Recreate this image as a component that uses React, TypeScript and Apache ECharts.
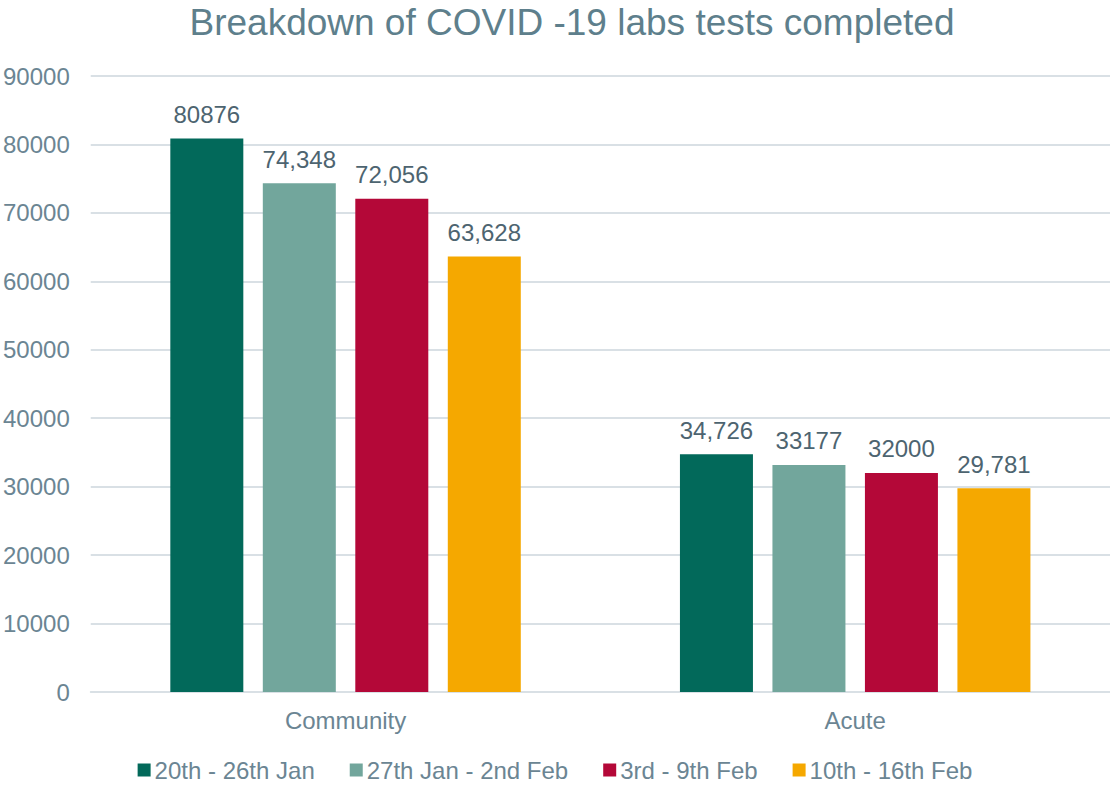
import React, { useEffect, useRef } from "react";
import * as echarts from "echarts";

const categories = ["Community", "Acute"];
const seriesNames = ["20th - 26th Jan", "27th Jan - 2nd Feb", "3rd - 9th Feb", "10th - 16th Feb"];
const week1 = [80876, 34726];
const week2 = [74348, 33177];
const week3 = [72056, 32000];
const week4 = [63628, 29781];
const week1Labels = ["80876", "34,726"];
const week2Labels = ["74,348", "33177"];
const week3Labels = ["72,056", "32000"];
const week4Labels = ["63,628", "29,781"];
const colors = ["#02695A", "#72A69C", "#B40838", "#F5A800"];

export default function App() {
  const ref = useRef<HTMLDivElement>(null);
  useEffect(() => {
    if (!ref.current) return;
    const chart = echarts.init(ref.current, null, { renderer: "svg" });
    const values = [week1, week2, week3, week4];
    const labels = [week1Labels, week2Labels, week3Labels, week4Labels];
    const font = "'Liberation Sans', Arial, sans-serif";
    chart.setOption({
      animation: false,
      textStyle: { fontFamily: font },
      title: {
        text: "Breakdown of COVID -19 labs tests completed",
        left: 567,
        textAlign: "center",
        top: -1,
        textStyle: { color: "#5E7F8C", fontSize: 37, fontWeight: "normal", fontFamily: font },
      },
      legend: {
        top: 758,
        left: "center",
        padding: 0,
        itemWidth: 13,
        itemHeight: 13,
        itemGap: 35,
        icon: "rect",
        textStyle: { color: "#6B8593", fontSize: 24, fontFamily: font, padding: [0, 0, 0, -1] },
        data: seriesNames,
      },
      grid: { left: 88, right: 0, top: 76, bottom: 93, containLabel: false },
      xAxis: {
        type: "category",
        data: categories,
        axisLine: { show: true, lineStyle: { color: "#D9E0E5", width: 2 } },
        axisTick: { show: false },
        axisLabel: { color: "#6B8593", fontSize: 24, margin: 16, fontFamily: font },
      },
      yAxis: {
        type: "value",
        min: 0,
        max: 90000,
        interval: 10000,
        axisLine: { show: false },
        axisTick: { show: false },
        axisLabel: {
          color: "#6B8593",
          fontSize: 24,
          margin: 21,
          fontFamily: font,
          formatter: (v: number) => String(v),
        },
        splitLine: { lineStyle: { color: "#D9E0E5", width: 2 } },
      },
      series: seriesNames.map((name, i) => ({
        name,
        type: "bar",
        data: values[i],
        barWidth: 73,
        barGap: "26.7%",
        itemStyle: { color: colors[i] },
        label: {
          show: true,
          position: "top",
          distance: 12,
          color: "#4D6470",
          fontSize: 24,
          fontFamily: font,
          formatter: (p: any) => labels[i][p.dataIndex],
        },
      })),
    });
    return () => chart.dispose();
  }, []);
  return (
    <div
      ref={ref}
      style={{ position: "absolute", left: 0, top: 0, width: 1110, height: 785, background: "#fff" }}
    />
  );
}
